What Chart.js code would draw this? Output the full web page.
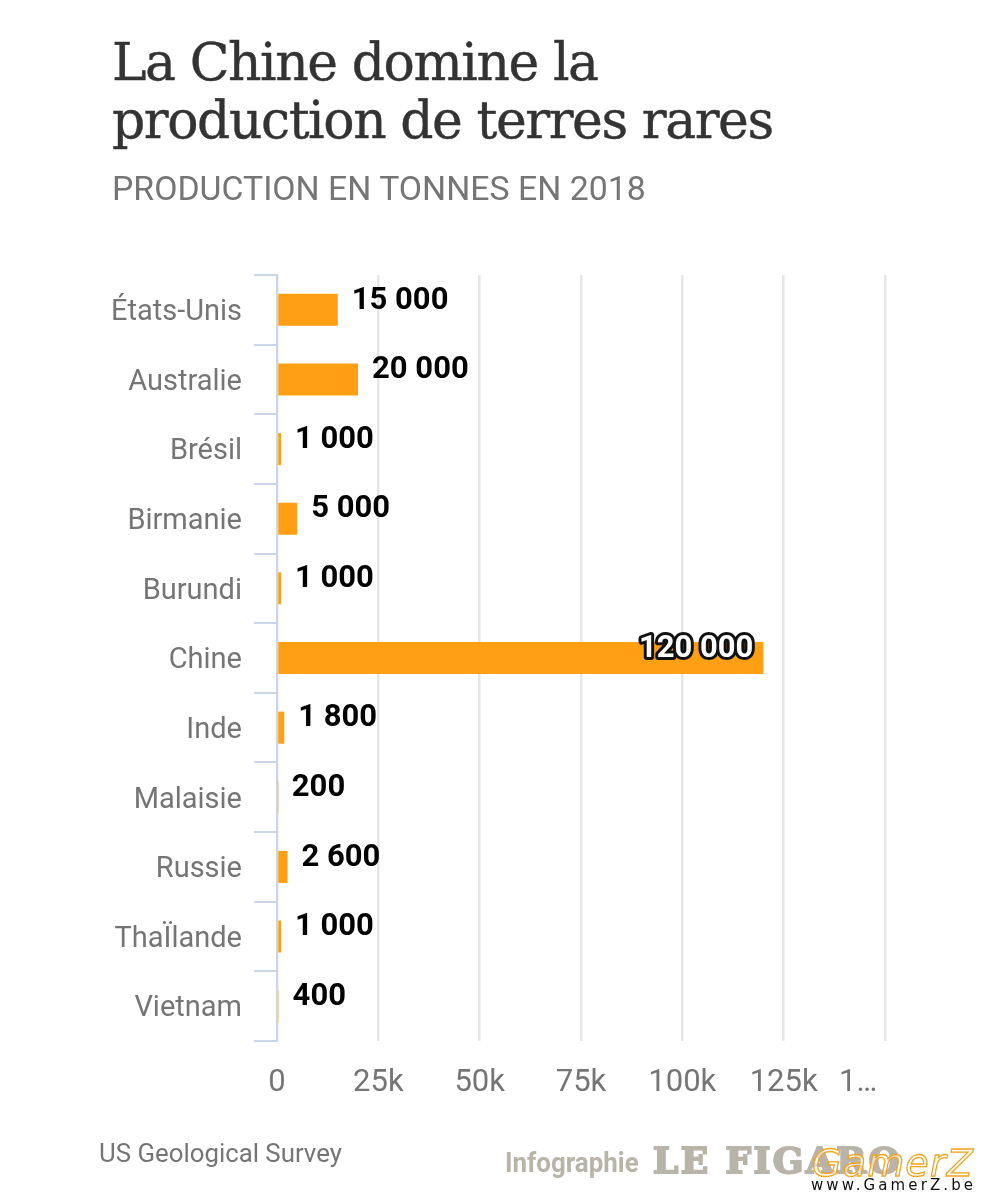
<!DOCTYPE html>
<html lang="fr">
<head>
<meta charset="utf-8">
<title>La Chine domine la production de terres rares</title>
<script src="https://cdn.jsdelivr.net/npm/chart.js@4"></script>
<style>
  html, body { margin: 0; padding: 0; background: #fff; }
  #page { position: relative; width: 995px; height: 1200px; overflow: hidden; }
  #page canvas { position: absolute; left: 0; top: 0; }
  .txt { position: absolute; white-space: nowrap; line-height: 1; }
  #title { left: 112px; top: 33px; font: 400 52px/58px "DejaVu Serif", serif; color: #333; -webkit-text-stroke: 0.4px #333; letter-spacing: -1.45px; white-space: pre; }
  #subtitle { left: 112px; top: 169px; font: 400 33.8px Roboto, sans-serif; color: #757575; }
  #source { left: 99px; top: 1138px; font: 400 25.8px Roboto, sans-serif; color: #757575; }
  #info { left: 505px; top: 1146px; font: 700 28px "Roboto", sans-serif; color: #b9b4aa; transform: scaleX(.925); transform-origin: left; }
  #figaro { left: 653px; top: 1139px; font: 900 36px "DejaVu Serif", serif; color: #b9b4aa; -webkit-text-stroke: 2px #b9b4aa; letter-spacing: 2.4px; }
  #gamerz { left: 812px; top: 1141px; font: italic 400 38px "DejaVu Sans", sans-serif; color: rgba(255,255,255,.55); -webkit-text-stroke: 1.3px #f2a31f; letter-spacing: 1.2px; }
  #www { left: 811px; top: 1176px; font: 400 15px "DejaVu Sans", sans-serif; color: #111; letter-spacing: 3.1px; }
</style>
</head>
<body>
<div id="page">
  <canvas id="myChart" width="995" height="1200"></canvas>
  <div class="txt" id="title">La Chine domine la
production de terres rares</div>
  <div class="txt" id="subtitle">PRODUCTION EN TONNES EN 2018</div>
  <div class="txt" id="source">US Geological Survey</div>
  <div class="txt" id="info">Infographie</div>
  <div class="txt" id="figaro">LE FIGARO</div>
  <div class="txt" id="gamerz">GamerZ</div>
  <div class="txt" id="www">www.GamerZ.be</div>
</div>
<script>
var pays = ['États-Unis', 'Australie', 'Brésil', 'Birmanie', 'Burundi', 'Chine', 'Inde', 'Malaisie', 'Russie', 'ThaÏlande', 'Vietnam'];
var production = [15000, 20000, 1000, 5000, 1000, 120000, 1800, 200, 2600, 1000, 400];
var tickLabels = ['0', '25k', '50k', '75k', '100k', '125k', '1…'];

function formatTonnes(v) {
  return String(v).replace(/\B(?=(\d{3})+$)/g, ' ');
}

// valeurs au bout des barres, la grande barre a son texte dedans
var barLabels = {
  id: 'barLabels',
  afterDatasetsDraw: function (chart) {
    var ctx = chart.ctx;
    var meta = chart.getDatasetMeta(0);
    ctx.save();
    ctx.font = '700 31px Roboto, sans-serif';
    ctx.textBaseline = 'middle';
    ctx.lineJoin = 'round';
    meta.data.forEach(function (bar, i) {
      var txt = formatTonnes(production[i]);
      var y = bar.y - 9;
      if (bar.x > 700) {
        ctx.textAlign = 'right';
        ctx.lineWidth = 6;
        ctx.strokeStyle = '#111';
        ctx.strokeText(txt, bar.x - 10, y);
        ctx.fillStyle = '#fff';
        ctx.fillText(txt, bar.x - 10, y);
      } else {
        ctx.textAlign = 'left';
        ctx.fillStyle = '#000';
        ctx.fillText(txt, bar.x + 14, y);
      }
    });
    ctx.restore();
  }
};

var ctx = document.getElementById('myChart').getContext('2d');
var myChart = new Chart(ctx, {
  type: 'bar',
  data: {
    labels: pays,
    datasets: [{
      label: 'Production',
      data: production,
      backgroundColor: '#ff9f14',
      barPercentage: 1,
      categoryPercentage: 0.46
    }]
  },
  plugins: [barLabels],
  options: {
    indexAxis: 'y',
    responsive: false,
    animation: false,
    devicePixelRatio: 1,
    layout: { padding: { top: 275, right: 110, bottom: 59, left: 0 } },
    plugins: {
      legend: { display: false },
      tooltip: { enabled: false }
    },
    scales: {
      x: {
        min: 0,
        max: 150000,
        afterFit: function (axis) { axis.height = 100; },
        grid: { color: '#e6e6e6', lineWidth: 2.5, drawTicks: false },
        border: { display: false },
        ticks: {
          stepSize: 25000,
          padding: 24,
          maxRotation: 0,
          autoSkip: false,
          color: '#757575',
          font: { family: 'Roboto, sans-serif', size: 31 },
          callback: function (v, i) {
            // le dernier libellé est coupé et décalé à gauche sur l'original
            return i === 6 ? tickLabels[i] + '\u00a0\u00a0\u00a0\u00a0\u00a0\u00a0\u00a0' : tickLabels[i];
          }
        }
      },
      y: {
        afterFit: function (axis) { axis.width = 277; },
        grid: { offset: true, color: '#c8d6e8', lineWidth: 2, drawOnChartArea: false, tickLength: 23 },
        border: { display: true, color: '#c8d6e8', width: 2 },
        ticks: {
          padding: 12,
          labelOffset: 3,
          autoSkip: false,
          color: '#757575',
          font: { family: 'Roboto, sans-serif', size: 29 }
        }
      }
    }
  }
});
</script>
</body>
</html>
